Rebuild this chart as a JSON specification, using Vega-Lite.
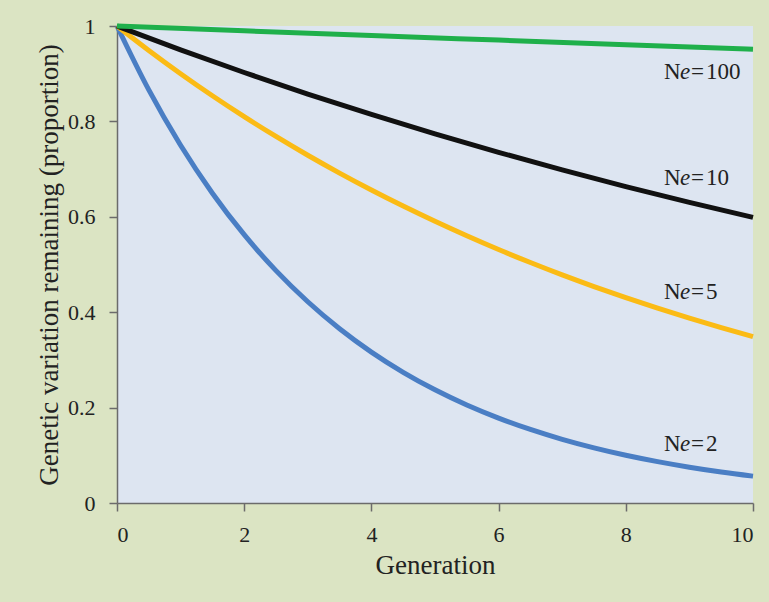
{
  "$schema": "https://vega.github.io/schema/vega-lite/v6.json",
  "autosize": {"type": "none"},
  "width": 636,
  "height": 477,
  "padding": {"left": 117, "top": 26, "right": 16, "bottom": 99},
  "background": "#dbe4c3",
  "config": {
    "view": {"fill": "#dde5f1", "stroke": null},
    "axis": {
      "grid": false,
      "domainColor": "#6b6b6b",
      "domainWidth": 1.5,
      "tickColor": "#6b6b6b",
      "tickWidth": 1.5,
      "tickSize": 8,
      "labelFont": "Liberation Serif",
      "labelFontSize": 22,
      "labelColor": "#222222",
      "titleFont": "Liberation Serif",
      "titleFontSize": 27,
      "titleFontWeight": "normal",
      "titleColor": "#222222"
    }
  },
  "datasets": {
    "lines": [
      {"gen": 0, "h": 1, "ne": "2"}, {"gen": 0.5, "h": 0.866, "ne": "2"}, {"gen": 1, "h": 0.75, "ne": "2"}, {"gen": 1.5, "h": 0.6495, "ne": "2"}, {"gen": 2, "h": 0.5625, "ne": "2"}, {"gen": 2.5, "h": 0.4871, "ne": "2"}, {"gen": 3, "h": 0.4219, "ne": "2"}, {"gen": 3.5, "h": 0.3654, "ne": "2"}, {"gen": 4, "h": 0.3164, "ne": "2"}, {"gen": 4.5, "h": 0.274, "ne": "2"}, {"gen": 5, "h": 0.2373, "ne": "2"}, {"gen": 5.5, "h": 0.2055, "ne": "2"}, {"gen": 6, "h": 0.178, "ne": "2"}, {"gen": 6.5, "h": 0.1541, "ne": "2"}, {"gen": 7, "h": 0.1335, "ne": "2"}, {"gen": 7.5, "h": 0.1156, "ne": "2"}, {"gen": 8, "h": 0.1001, "ne": "2"}, {"gen": 8.5, "h": 0.0867, "ne": "2"}, {"gen": 9, "h": 0.0751, "ne": "2"}, {"gen": 9.5, "h": 0.065, "ne": "2"}, {"gen": 10, "h": 0.0563, "ne": "2"},
      {"gen": 0, "h": 1, "ne": "5"}, {"gen": 0.5, "h": 0.9487, "ne": "5"}, {"gen": 1, "h": 0.9, "ne": "5"}, {"gen": 1.5, "h": 0.8538, "ne": "5"}, {"gen": 2, "h": 0.81, "ne": "5"}, {"gen": 2.5, "h": 0.7684, "ne": "5"}, {"gen": 3, "h": 0.729, "ne": "5"}, {"gen": 3.5, "h": 0.6916, "ne": "5"}, {"gen": 4, "h": 0.6561, "ne": "5"}, {"gen": 4.5, "h": 0.6224, "ne": "5"}, {"gen": 5, "h": 0.5905, "ne": "5"}, {"gen": 5.5, "h": 0.5602, "ne": "5"}, {"gen": 6, "h": 0.5314, "ne": "5"}, {"gen": 6.5, "h": 0.5042, "ne": "5"}, {"gen": 7, "h": 0.4783, "ne": "5"}, {"gen": 7.5, "h": 0.4538, "ne": "5"}, {"gen": 8, "h": 0.4305, "ne": "5"}, {"gen": 8.5, "h": 0.4084, "ne": "5"}, {"gen": 9, "h": 0.3874, "ne": "5"}, {"gen": 9.5, "h": 0.3675, "ne": "5"}, {"gen": 10, "h": 0.3487, "ne": "5"},
      {"gen": 0, "h": 1, "ne": "10"}, {"gen": 1, "h": 0.95, "ne": "10"}, {"gen": 2, "h": 0.9025, "ne": "10"}, {"gen": 3, "h": 0.8574, "ne": "10"}, {"gen": 4, "h": 0.8145, "ne": "10"}, {"gen": 5, "h": 0.7738, "ne": "10"}, {"gen": 6, "h": 0.7351, "ne": "10"}, {"gen": 7, "h": 0.6983, "ne": "10"}, {"gen": 8, "h": 0.6634, "ne": "10"}, {"gen": 9, "h": 0.6302, "ne": "10"}, {"gen": 10, "h": 0.5987, "ne": "10"},
      {"gen": 0, "h": 1, "ne": "100"}, {"gen": 2, "h": 0.99, "ne": "100"}, {"gen": 4, "h": 0.9801, "ne": "100"}, {"gen": 6, "h": 0.9704, "ne": "100"}, {"gen": 8, "h": 0.9607, "ne": "100"}, {"gen": 10, "h": 0.9511, "ne": "100"}
    ],
    "labels": [
      {"gen": 8.6, "h": 0.904, "n": "N", "e": "e", "eq": "=", "num": "100"},
      {"gen": 8.6, "h": 0.681, "n": "N", "e": "e", "eq": "=", "num": "10"},
      {"gen": 8.6, "h": 0.442, "n": "N", "e": "e", "eq": "=", "num": "5"},
      {"gen": 8.6, "h": 0.124, "n": "N", "e": "e", "eq": "=", "num": "2"}
    ]
  },
  "layer": [
    {
      "data": {"name": "lines"},
      "mark": {"type": "line", "interpolate": "monotone", "strokeWidth": 5, "strokeCap": "butt"},
      "encoding": {
        "x": {
          "field": "gen", "type": "quantitative", "title": "Generation",
          "scale": {"domain": [0, 10], "nice": false},
          "axis": {"values": [0, 2, 4, 6, 8, 10], "format": "~g", "labelPadding": 13, "titleBaseline": "alphabetic", "titleY": 70}
        },
        "y": {
          "field": "h", "type": "quantitative", "title": "Genetic variation remaining  (proportion)",
          "scale": {"domain": [0, 1], "nice": false},
          "axis": {"values": [0, 0.2, 0.4, 0.6, 0.8, 1], "format": "~g", "labelPadding": 14, "titleBaseline": "alphabetic", "titleX": -60}
        },
        "color": {
          "field": "ne", "type": "nominal", "legend": null,
          "scale": {"domain": ["100", "10", "5", "2"], "range": ["#1fb04b", "#111111", "#fbbb15", "#4a7ec4"]}
        }
      }
    },
    {
      "data": {"name": "labels"},
      "mark": {"type": "text", "font": "Liberation Serif", "fontSize": 23, "align": "left", "baseline": "middle", "color": "#222222"},
      "encoding": {
        "x": {"field": "gen", "type": "quantitative"},
        "y": {"field": "h", "type": "quantitative"},
        "text": {"field": "n"}
      }
    },
    {
      "data": {"name": "labels"},
      "mark": {"type": "text", "font": "Liberation Serif", "fontSize": 23, "fontStyle": "italic", "align": "left", "baseline": "middle", "dx": 16, "color": "#222222"},
      "encoding": {
        "x": {"field": "gen", "type": "quantitative"},
        "y": {"field": "h", "type": "quantitative"},
        "text": {"field": "e"}
      }
    },
    {
      "data": {"name": "labels"},
      "mark": {"type": "text", "font": "Liberation Serif", "fontSize": 23, "align": "left", "baseline": "middle", "dx": 27, "color": "#222222"},
      "encoding": {
        "x": {"field": "gen", "type": "quantitative"},
        "y": {"field": "h", "type": "quantitative"},
        "text": {"field": "eq"}
      }
    },
    {
      "data": {"name": "labels"},
      "mark": {"type": "text", "font": "Liberation Serif", "fontSize": 23, "align": "left", "baseline": "middle", "dx": 42, "color": "#222222"},
      "encoding": {
        "x": {"field": "gen", "type": "quantitative"},
        "y": {"field": "h", "type": "quantitative"},
        "text": {"field": "num"}
      }
    }
  ]
}
